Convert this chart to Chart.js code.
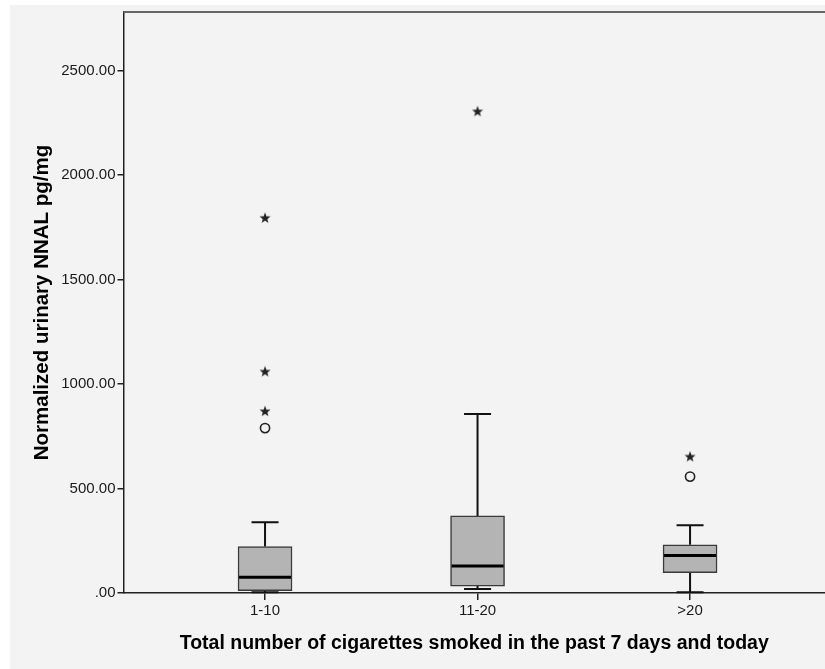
<!DOCTYPE html>
<html>
<head>
<meta charset="utf-8">
<script src="https://cdn.jsdelivr.net/npm/chart.js@4/dist/chart.umd.min.js"></script>
<style>
  body { margin: 0; background: #ffffff; }
  canvas { display: block; }
</style>
</head>
<body>
<canvas id="c" width="825" height="669"></canvas>
<script>
// categories and box statistics (pg/mg)
const categories = ['1-10', '11-20', '>20'];
const whiskerLow = [3, 19, 3];
const q1 = [11, 33, 97];
const median = [75, 129, 179];
const q3 = [222, 369, 231];
const whiskerHigh = [339, 856, 324];
// outliers: circles = mild, stars = extreme
const circleOutliers = [[789], [], [557]];
const starOutliers = [[870, 1060, 1795], [2305], [653]];
const yTicks = [0, 500, 1000, 1500, 2000, 2500];

const xs = categories.map((_, i) => i + 1);

// filled 5-point star for extreme values
const starImg = document.createElement('canvas');
starImg.width = 12; starImg.height = 12;
(function () {
  const g = starImg.getContext('2d');
  g.fillStyle = '#222';
  g.beginPath();
  for (let i = 0; i < 10; i++) {
    const r = i % 2 === 0 ? 5.8 : 2.4;
    const a = -Math.PI / 2 + i * Math.PI / 5;
    const px = 6 + r * Math.cos(a), py = 6.4 + r * Math.sin(a);
    if (i === 0) g.moveTo(px, py); else g.lineTo(px, py);
  }
  g.closePath();
  g.fill();
})();

const boxPlugin = {
  id: 'boxParts',
  beforeDraw(chart) {
    const ctx = chart.ctx;
    ctx.save();
    ctx.fillStyle = '#f3f3f3';
    ctx.fillRect(10, 5, chart.width - 10, chart.height - 5);
    ctx.restore();
  },
  beforeDatasetsDraw(chart) {
    const ctx = chart.ctx, x = chart.scales.x, y = chart.scales.y;
    const half = 27 / 2;
    ctx.save();
    ctx.strokeStyle = '#111';
    ctx.lineWidth = 2;
    xs.forEach((v, i) => {
      const px = x.getPixelForValue(v);
      ctx.beginPath();
      ctx.moveTo(px, y.getPixelForValue(q3[i]));
      ctx.lineTo(px, y.getPixelForValue(whiskerHigh[i]));
      ctx.moveTo(px, y.getPixelForValue(q1[i]));
      ctx.lineTo(px, y.getPixelForValue(whiskerLow[i]));
      ctx.moveTo(px - half, y.getPixelForValue(whiskerHigh[i]));
      ctx.lineTo(px + half, y.getPixelForValue(whiskerHigh[i]));
      ctx.moveTo(px - half, y.getPixelForValue(whiskerLow[i]));
      ctx.lineTo(px + half, y.getPixelForValue(whiskerLow[i]));
      ctx.stroke();
    });
    ctx.restore();
  },
  afterDatasetsDraw(chart) {
    const ctx = chart.ctx, x = chart.scales.x, y = chart.scales.y, a = chart.chartArea;
    ctx.save();
    ctx.strokeStyle = '#000';
    ctx.lineWidth = 3;
    xs.forEach((v, i) => {
      const px = x.getPixelForValue(v);
      const py = y.getPixelForValue(median[i]);
      ctx.beginPath();
      ctx.moveTo(px - 26, py);
      ctx.lineTo(px + 26, py);
      ctx.stroke();
    });
    // top frame line
    ctx.strokeStyle = '#666';
    ctx.lineWidth = 2;
    ctx.beginPath();
    ctx.moveTo(a.left, a.top);
    ctx.lineTo(chart.width, a.top);
    ctx.stroke();
    ctx.restore();
  }
};

const circlePts = [], starPts = [];
xs.forEach((v, i) => {
  circleOutliers[i].forEach(val => circlePts.push({ x: v, y: val }));
  starOutliers[i].forEach(val => starPts.push({ x: v, y: val }));
});

new Chart(document.getElementById('c'), {
  type: 'bar',
  data: {
    datasets: [
      {
        type: 'bar',
        data: xs.map((v, i) => ({ x: v, y: [q1[i], q3[i]] })),
        backgroundColor: '#b4b4b4',
        borderColor: '#3a3a3a',
        borderWidth: 1.5,
        borderSkipped: false,
        barThickness: 54
      },
      {
        type: 'scatter',
        data: circlePts,
        pointStyle: 'circle',
        pointRadius: 4.6,
        backgroundColor: 'rgba(0,0,0,0)',
        borderColor: '#222',
        borderWidth: 1.6
      },
      {
        type: 'scatter',
        data: starPts,
        pointStyle: starImg,
        pointRadius: 6
      }
    ]
  },
  options: {
    responsive: false,
    animation: false,
    layout: { autoPadding: false, padding: { left: 0, top: 12, right: 0, bottom: 0 } },
    plugins: { legend: { display: false }, tooltip: { enabled: false } },
    scales: {
      x: {
        type: 'linear',
        offset: false,
        min: 0.334,
        max: 3.635,
        afterBuildTicks: s => { s.ticks = xs.map(v => ({ value: v })); },
        afterFit: s => { s.height = 76; },
        ticks: {
          callback: v => categories[v - 1],
          color: '#1a1a1a',
          font: { family: 'Liberation Sans', size: 15 },
          padding: 2,
          maxRotation: 0,
          autoSkip: false
        },
        grid: { offset: false, drawOnChartArea: false, drawTicks: true, tickLength: 7, color: '#222', lineWidth: 1.5 },
        border: { display: true, color: '#222', width: 1.5 },
        title: {
          display: true,
          text: 'Total number of cigarettes smoked in the past 7 days and today',
          color: '#000',
          font: { family: 'Liberation Sans', size: 19.5, weight: 'bold' },
          padding: { top: 14, bottom: 14 }
        }
      },
      y: {
        min: 0,
        max: 2780,
        afterBuildTicks: s => { s.ticks = yTicks.map(v => ({ value: v })); },
        afterFit: s => { s.width = 123.5; },
        ticks: {
          callback: v => v === 0 ? '.00' : v.toFixed(2),
          color: '#1a1a1a',
          font: { family: 'Liberation Sans', size: 15 },
          padding: 2
        },
        grid: { drawOnChartArea: false, drawTicks: true, tickLength: 6, color: '#222', lineWidth: 1.5 },
        border: { display: true, color: '#222', width: 1.5 },
        title: {
          display: true,
          text: 'Normalized urinary NNAL pg/mg',
          color: '#000',
          font: { family: 'Liberation Sans', size: 20.5, weight: 'bold' },
          padding: { top: 30, bottom: 30 }
        }
      }
    }
  },
  plugins: [boxPlugin]
});
</script>
</body>
</html>
